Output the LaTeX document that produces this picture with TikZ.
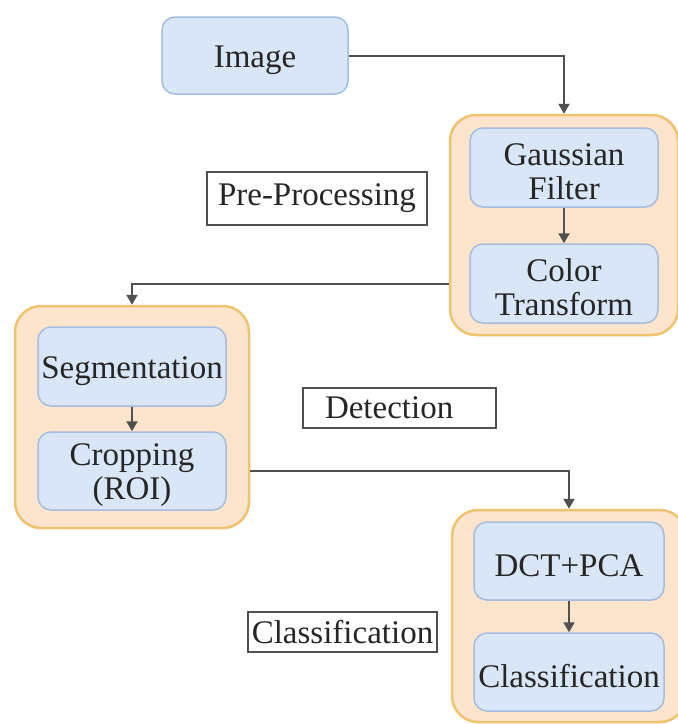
\documentclass[tikz,border=0pt]{standalone}
\usepackage{fontspec}
\setmainfont{Liberation Serif}
\usetikzlibrary{arrows.meta,calc}
\definecolor{bfill}{HTML}{D8E6F8}
\definecolor{bdraw}{HTML}{A4BCDF}
\definecolor{ofill}{HTML}{FDE4CC}
\definecolor{odraw}{HTML}{F0C36E}
\definecolor{txt}{HTML}{262626}
\definecolor{lin}{HTML}{505050}
\newcommand\dnstrut{\rule{0pt}{31pt}}
\tikzset{
  bluebox/.style={draw=bdraw, fill=bfill, line width=1.5pt, rounded corners=13pt, align=center, text=txt, inner sep=0pt},
  grpbox/.style={draw=odraw, fill=ofill, line width=2.5pt, rounded corners=26pt, inner sep=0pt},
  labbox/.style={draw=lin, fill=white, line width=1.5pt, text=txt, inner sep=0pt},
  conn/.style={draw=lin, line width=2pt, -{Triangle[length=10pt,width=11pt]}},
}
\begin{document}
\begin{tikzpicture}[x=1pt,y=-1pt,font=\fontsize{33}{34}\selectfont]
\useasboundingbox (0,0) rectangle (678,724);
\clip (0,0) rectangle (678,724);
% groups
\node[grpbox, minimum width=228pt, minimum height=220pt] (grp1) at (564,225) {};
\node[grpbox, minimum width=234pt, minimum height=222pt] (grp2) at (132,417) {};
\node[grpbox, minimum width=234pt, minimum height=212pt] (grp3) at (569,616) {};
% boxes
\node[bluebox, minimum width=186pt, minimum height=77pt] (img) at (255,55.5) {\dnstrut Image};
\node[bluebox, minimum width=188pt, minimum height=79pt] (gf) at (564,167.5) {\dnstrut Gaussian\\Filter};
\node[bluebox, minimum width=188pt, minimum height=79pt] (ct) at (564,283.5) {\dnstrut Color\\Transform};
\node[bluebox, minimum width=188pt, minimum height=79pt] (seg) at (132,366.5) {\dnstrut Segmentation};
\node[bluebox, minimum width=188pt, minimum height=78pt] (crop) at (132,471) {\dnstrut Cropping\\(ROI)};
\node[bluebox, minimum width=190pt, minimum height=78pt] (dct) at (569,561) {\dnstrut DCT+PCA};
\node[bluebox, minimum width=190pt, minimum height=78pt] (cls) at (569,672) {\dnstrut Classification};
% labels
\node[labbox, minimum width=220pt, minimum height=53pt] (pre) at (317,198.5) {Pre-Processing};
\node[labbox, minimum width=193pt, minimum height=40pt, text width=193pt, align=left] (det) at (399.5,408) {\hspace*{22pt}Detection};
\node[labbox, minimum width=189pt, minimum height=40pt] (clab) at (342.5,632) {Classification};
% connectors
\draw[conn] (img.east) -| (grp1.north);
\draw[conn] (gf.south) -- (ct.north);
\draw[conn] (grp1.west |- ct.center) -| (grp2.north);
\draw[conn] (seg.south) -- (crop.north);
\draw[conn] (grp2.east |- crop.center) -| (grp3.north);
\draw[conn] (dct.south) -- (cls.north);
\end{tikzpicture}
\end{document}
